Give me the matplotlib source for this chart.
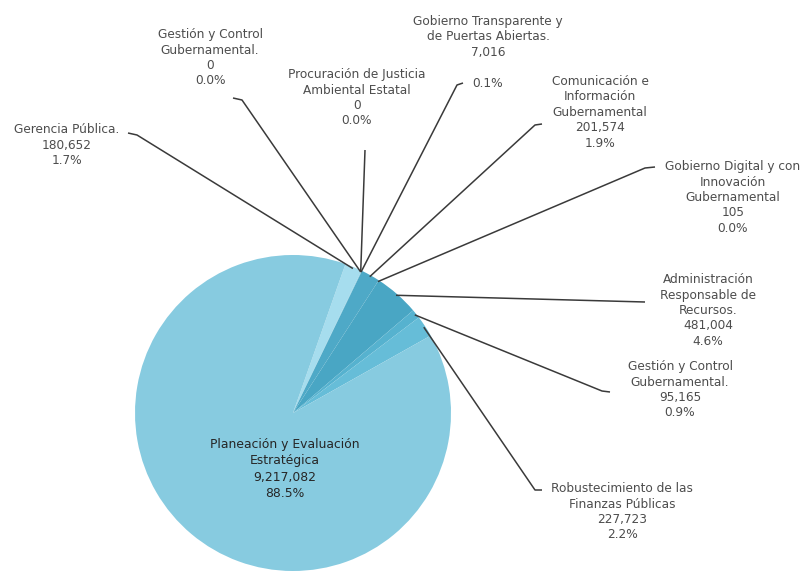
#!/usr/bin/env python3
"""Pie chart of program budget with leader-line labels."""

import numpy as np
import matplotlib

matplotlib.use("Agg")

from matplotlib import pyplot as plt

# data, in clockwise drawing order
programs = [
    "Gerencia Pública.",
    "Gestión y Control\nGubernamental.",
    "Procuración de Justicia\nAmbiental Estatal",
    "Gobierno Transparente y\nde Puertas Abiertas.",
    "Comunicación e\nInformación\nGubernamental",
    "Gobierno Digital y con\nInnovación\nGubernamental",
    "Administración\nResponsable de\nRecursos.",
    "Gestión y Control\nGubernamental.",
    "Robustecimiento de las\nFinanzas Públicas",
    "Planeación y Evaluación\nEstratégica",
]
amounts = [180652, 0, 0, 7016, 201574, 105, 481004, 95165, 227723, 9217082]
shares = ["1.7%", "0.0%", "0.0%", "0.1%", "1.9%", "0.0%", "4.6%", "0.9%", "2.2%", "88.5%"]

colors = ["#a6ddee", "#a6ddee", "#a6ddee", "#8fd0e4", "#4ea9c7",
          "#4ea9c7", "#49a6c4", "#56b2cf", "#66bdd8", "#87cbe0"]

W, H = 806, 576

# layout in pixel coords (x, y from top): first text line centre, leader anchor, elbow
label_pos = [(67, 128), (210, 33), (357, 73), (488, 20), (600, 80),
             (733, 165), (708, 278), (680, 365), (622, 487), (285, 443)]
leader_anchor = [(128, 133), (233, 98), (365, 150), (463, 83), (542, 124),
                 (655, 167), (645, 302), (610, 392), (542, 490), None]
leader_elbow = [(137, 135), (242, 100), None, (457, 85), (535, 125),
                (645, 168), None, (602, 391), (535, 490), None]
LINE_STEP = 15.5

CENTER = (293, 413)
RADIUS = 158


def px(point):
    return point[0], H - point[1]


def fmt_amount(value):
    return f"{value:,}"


def put_lines(ax, x, y, lines, step, **kw):
    for k, line in enumerate(lines):
        if line:
            ax.text(x, H - (y + k * step), line, ha="center",
                    va="center_baseline", **kw)


fig = plt.figure(figsize=(W / 100, H / 100), dpi=100)
fig.patch.set_facecolor("white")
ax = fig.add_axes([0, 0, 1, 1])

wedges, _ = ax.pie(
    amounts,
    colors=colors,
    startangle=70.6,
    counterclock=False,
    center=px(CENTER),
    radius=RADIUS,
    wedgeprops=dict(linewidth=0),
)
ax.set_xlim(0, W)
ax.set_ylim(0, H)
ax.set_aspect("equal")
ax.axis("off")

cx, cy = px(CENTER)
for i, wedge in enumerate(wedges):
    lines = programs[i].split("\n") + [fmt_amount(amounts[i]), shares[i]]
    if i == 3:
        # the share sits a bit lower, beside the leader line
        lines.insert(-1, "")
    lx, ly = label_pos[i]
    if i == len(wedges) - 1:
        put_lines(ax, lx, ly, lines, 16.3, fontsize=8.9, color="#262626")
        continue
    put_lines(ax, lx, ly, lines, LINE_STEP, fontsize=8.7, color="#4d4d4d")

    mid = np.deg2rad((wedge.theta1 + wedge.theta2) / 2)
    ex = cx + RADIUS * 0.99 * np.cos(mid)
    ey = cy + RADIUS * 0.99 * np.sin(mid)
    xs = [px(leader_anchor[i])[0]]
    ys = [px(leader_anchor[i])[1]]
    if leader_elbow[i] is not None:
        xs.append(px(leader_elbow[i])[0])
        ys.append(px(leader_elbow[i])[1])
    xs.append(ex)
    ys.append(ey)
    ax.plot(xs, ys, color="#3a3a3a", linewidth=1.1, solid_capstyle="butt")

fig.savefig("out.png", dpi=100, facecolor="white")
